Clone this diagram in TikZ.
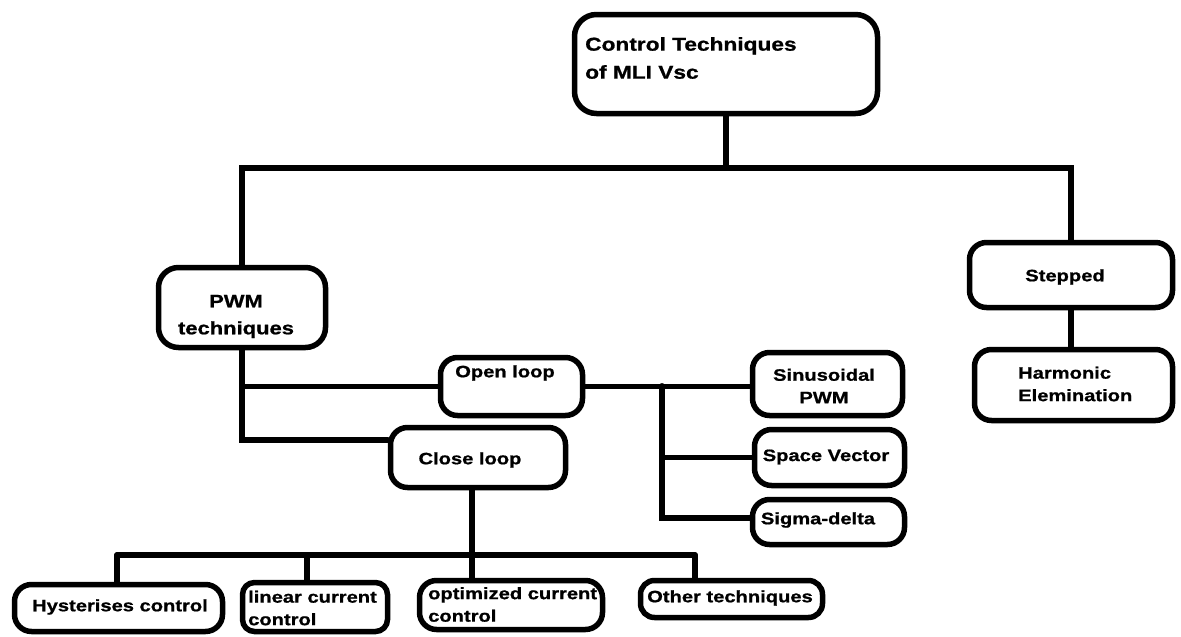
\documentclass[tikz,border=0pt]{standalone}
\usepackage{fontspec}
\setmainfont{Liberation Sans}
\newfontfamily\lab[FakeStretch=1.22,BoldFeatures={FakeBold=0.9}]{Liberation Sans}
\begin{document}
\begin{tikzpicture}[x=1pt,y=-1pt,
  box/.style={draw, line width=5.5pt, rounded corners=17pt, inner sep=0pt},
  conn/.style={line width=5.5pt, line cap=round},
  txt/.style={inner sep=0pt, font=\lab\bfseries\fontsize{16.5}{22.5}\selectfont},
  bigtxt/.style={inner sep=0pt, font=\lab\bfseries\fontsize{18.6}{28}\selectfont},
  midtxt/.style={inner sep=0pt, font=\lab\bfseries\fontsize{18}{27}\selectfont}]
\useasboundingbox (0,0) rectangle (1181,637);
% boxes
\node[box, minimum width=303, minimum height=99, rounded corners=22pt] (top) at (726,64) {};
\node[box, minimum width=167, minimum height=80, rounded corners=20pt] (pwm) at (242,307.5) {};
\node[box, minimum width=203, minimum height=65] (step) at (1071,275) {};
\node[box, minimum width=198, minimum height=71] (harm) at (1073.5,385) {};
\node[box, minimum width=142, minimum height=58] (open) at (511.5,386.5) {};
\node[box, minimum width=175, minimum height=60] (close) at (478,457.5) {};
\node[box, minimum width=150, minimum height=63] (sin) at (827.5,384) {};
\node[box, minimum width=150, minimum height=56] (sv) at (829.5,457.5) {};
\node[box, minimum width=152, minimum height=45] (sd) at (828.5,522) {};
\node[box, minimum width=208, minimum height=47] (hyst) at (118.5,608) {};
\node[box, minimum width=145, minimum height=49, rounded corners=12pt] (lin) at (315,607) {};
\node[box, minimum width=183, minimum height=49] (opt) at (511,605) {};
\node[box, minimum width=182, minimum height=37, rounded corners=14pt] (other) at (731.5,599) {};
% labels
\node[bigtxt, anchor=west, align=left] (topt) at (585,58) {Control Techniques\\of MLI Vsc};
\node[midtxt, align=center] (pwmt) at (236,316.5) {PWM\\techniques};
\node[txt] (stept) at (1065,277) {Stepped};
\node[txt, anchor=west, align=left] (harmt) at (1018,384) {Harmonic\\Elemination};
\node[txt] (opent) at (505,373) {Open loop};
\node[txt] (closet) at (470,460) {Close loop};
\node[txt, align=center] (sint) at (824,386) {Sinusoidal\\PWM};
\node[txt] (svt) at (826,457) {Space Vector};
\node[txt] (sdt) at (818,520) {Sigma-delta};
\node[txt] (hystt) at (120,607) {Hysterises control};
\node[txt, anchor=west, align=left] (lint) at (248,608) {linear current\\control};
\node[txt, anchor=west, align=left] (optt) at (428,604.5) {optimized current\\control};
\node[txt] (othert) at (730,598) {Other techniques};
% connectors
\coordinate (j1) at (726,168);
\draw[conn] (top.south) -- (j1);
\draw[conn] (pwm.north) |- (j1) -| (step.north);
\draw[conn] (step.south) -- (step.south |- harm.north);
\draw[conn] (pwm.south) |- ([yshift=17.5pt]close.west);
\draw[conn] (pwm.south |- open.west) -- (open.west);
\coordinate (v) at (662,386);
\draw[conn] (open.east) -- (open.east -| sin.west);
\draw[conn] (v) |- (sv.west);
\draw[conn] (v) |- ([yshift=4pt]sd.west);
\coordinate (h) at (472,555);
\coordinate (b1) at (117,555);
\coordinate (b2) at (307,555);
\coordinate (b4) at (695,555);
\draw[conn] (close.south -| h) -- (h);
\draw[conn] (b1) -- (b4);
\draw[conn] (b1) -- (b1 |- hyst.north);
\draw[conn] (b2) -- (b2 |- lin.north);
\draw[conn] (h) -- (h |- opt.north);
\draw[conn] (b4) -- (b4 |- other.north);
\end{tikzpicture}
\end{document}
